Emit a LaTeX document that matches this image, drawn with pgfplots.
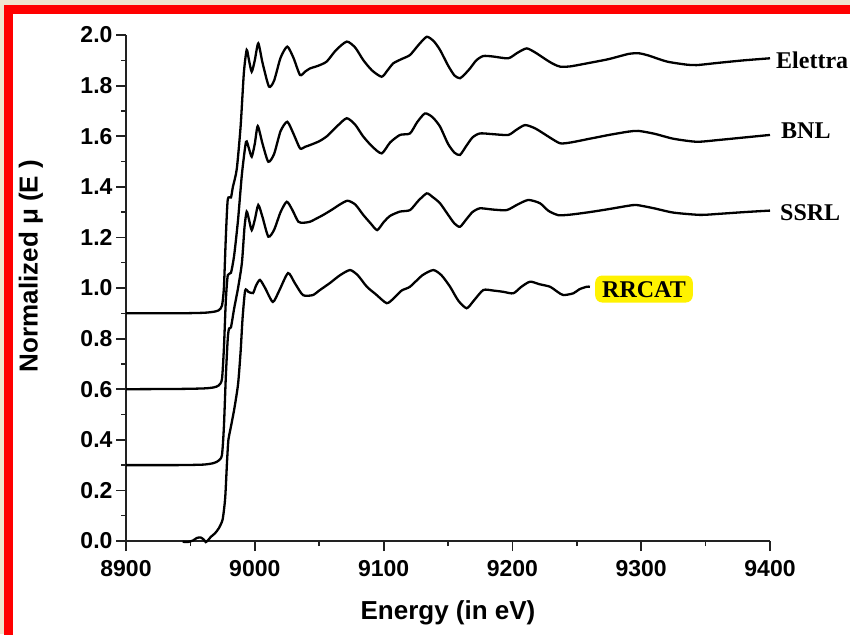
\documentclass[border=0pt]{standalone}
\usepackage{pgfplots}
\pgfplotsset{compat=1.18}
\usepackage{fontspec}
\setmainfont{Liberation Sans}
\newfontfamily\timesfont{Liberation Serif}
\definecolor{beigebg}{HTML}{EFE4CF}
\definecolor{hl}{HTML}{FFF200}
\definecolor{axc}{HTML}{222222}

\pgfplotstableread{
x y
8900 0.900
8940 0.900
8960 0.902
8968 0.906
8972 0.912
8974.5 0.93
8976 1.00
8977.5 1.20
8979 1.350
8981.5 1.358
8983 1.40
8986 1.47
8989 1.64
8991.5 1.85
8993.7 1.941
8995.5 1.90
8997.6 1.855
9000 1.90
9002.7 1.967
9006 1.89
9011 1.796
9015 1.82
9020 1.91
9025.2 1.954
9030 1.91
9035.1 1.842
9039 1.855
9042.9 1.868
9049 1.878
9055.8 1.895
9063 1.94
9071.4 1.974
9078 1.95
9084.2 1.901
9091 1.86
9098.5 1.835
9103 1.86
9107.5 1.888
9114 1.905
9120.5 1.921
9127 1.96
9133.5 1.993
9139 1.975
9143.8 1.941
9150 1.88
9155 1.84
9159.3 1.829
9163 1.845
9167.1 1.868
9172 1.90
9177.4 1.917
9185 1.915
9196.8 1.908
9204 1.93
9211.1 1.947
9218 1.93
9226.6 1.901
9232 1.885
9237 1.875
9245 1.876
9260 1.89
9275 1.905
9290 1.925
9297.7 1.928
9305 1.92
9320 1.895
9335 1.883
9343.1 1.881
9360 1.89
9380 1.90
9400 1.908
}\elettra

\pgfplotstableread{
x y
8900 0.600
8940 0.601
8960 0.603
8968 0.607
8972 0.615
8974.5 0.64
8976 0.76
8977.5 0.95
8979 1.05
8981.5 1.06
8984 1.13
8987 1.27
8990 1.45
8993.2 1.578
8995.5 1.55
8997.6 1.519
9000 1.57
9002.3 1.64
9006 1.57
9010.5 1.499
9015 1.53
9020 1.62
9025.2 1.657
9030 1.61
9035.1 1.552
9039 1.558
9042.9 1.565
9050 1.58
9056 1.60
9064 1.64
9071.4 1.671
9078 1.645
9084 1.60
9091 1.56
9098.5 1.532
9105 1.575
9112.7 1.605
9120.5 1.611
9126 1.655
9132.1 1.69
9138 1.675
9143.8 1.638
9150 1.57
9155 1.535
9159.3 1.526
9164 1.56
9169 1.595
9174.8 1.611
9185 1.608
9196.8 1.605
9203 1.625
9209.8 1.644
9218 1.63
9229 1.595
9237 1.572
9245 1.575
9260 1.59
9275 1.605
9290 1.618
9297.7 1.621
9310 1.61
9325 1.59
9343.1 1.578
9360 1.585
9380 1.595
9400 1.605
}\bnl

\pgfplotstableread{
x y
8900 0.300
8940 0.300
8960 0.302
8968 0.308
8972 0.318
8974.5 0.34
8976 0.45
8977.5 0.65
8979 0.80
8980 0.84
8981.5 0.845
8984 0.92
8987 1.00
8990 1.10
8992 1.24
8993.7 1.302
8995.5 1.27
8997.6 1.229
9000 1.27
9002.7 1.328
9006 1.28
9010.5 1.203
9015 1.23
9020 1.30
9024.8 1.341
9029 1.31
9033.8 1.262
9038 1.258
9042.9 1.262
9048 1.275
9053.2 1.289
9060 1.31
9066 1.33
9072 1.345
9078 1.33
9084.2 1.289
9090 1.255
9095 1.229
9100 1.26
9105 1.285
9112.7 1.302
9120.5 1.308
9127 1.345
9133.5 1.374
9138 1.36
9143.8 1.335
9150 1.29
9155 1.255
9159.3 1.242
9164 1.27
9169 1.30
9174.8 1.315
9185 1.31
9195.6 1.308
9204 1.33
9212.4 1.348
9221.4 1.335
9228 1.305
9235.6 1.288
9245 1.290
9260 1.300
9275 1.312
9290 1.325
9296.5 1.328
9310 1.315
9325 1.298
9345.7 1.289
9360 1.293
9380 1.30
9400 1.306
}\ssrl

\pgfplotstableread{
x y
8944 -0.003
8948 -0.004
8952 0.002
8955 0.012
8958 0.014
8960.5 0.005
8962 -0.004
8964 0.005
8966 0.017
8969 0.03
8972 0.05
8975 0.085
8977 0.17
8978.5 0.32
8979.5 0.40
8981 0.44
8984 0.52
8987 0.62
8989 0.75
8990.5 0.88
8992.5 0.99
8995 0.985
8998.6 0.98
9001 1.01
9004 1.032
9008 1.0
9014 0.945
9019 0.99
9025.8 1.059
9031 1.02
9037.4 0.972
9045 0.972
9050 0.99
9058.4 1.02
9066 1.05
9073.9 1.071
9080 1.05
9087 1.005
9094 0.975
9102.4 0.94
9108 0.96
9114 0.99
9120.5 1.005
9130 1.05
9138.6 1.071
9145 1.05
9151.6 1.005
9158 0.95
9164.5 0.92
9170 0.95
9177.4 0.992
9185 0.99
9192.9 0.985
9200.7 0.979
9207 1.005
9213.7 1.025
9221 1.015
9229.2 1.005
9235 0.985
9239.5 0.972
9247.3 0.979
9252 0.995
9257.7 1.005
9260.2 1.005
}\rrcat

\begin{document}
\begin{tikzpicture}[x=1pt,y=1pt]
\useasboundingbox (0,0) rectangle (850,-634);
\clip (0,0) rectangle (850,-634);
\fill[beigebg] (0,0) rectangle (850,-634);
\fill[red] (4,-5) rectangle (900,-700);
\fill[white] (13,-14) rectangle (900,-700);
\begin{axis}[at={(126pt,-541pt)}, anchor=south west, scale only axis,
  width=644pt, height=506pt,
  xmin=8900, xmax=9400, ymin=0, ymax=2.0,
  axis x line*=bottom, axis y line*=left,
  axis line style={line width=2pt, axc},
  xtick={8900,9000,9100,9200,9300,9400},
  ytick={0,0.2,0.4,0.6,0.8,1.0,1.2,1.4,1.6,1.8,2.0},
  minor x tick num=1, minor y tick num=1,
  tick align=outside,
  major tick length=10pt, minor tick length=5pt,
  every major tick/.append style={line width=1.8pt, axc},
  every minor tick/.append style={line width=1.5pt, axc},
  /pgf/number format/assume math mode=true,
  xticklabel style={font=\fontsize{23}{23}\selectfont\bfseries, /pgf/number format/1000 sep={}, yshift=-6pt},
  yticklabel style={font=\fontsize{23}{23}\selectfont\bfseries, /pgf/number format/fixed, /pgf/number format/fixed zerofill, /pgf/number format/precision=1},
  no markers,
  clip=false,
]
\addplot[black, line width=2.3pt, smooth, tension=0.4, no markers] table[x=x,y=y] {\elettra};
\addplot[black, line width=2.3pt, smooth, tension=0.4, no markers] table[x=x,y=y] {\bnl};
\addplot[black, line width=2.3pt, smooth, tension=0.4, no markers] table[x=x,y=y] {\ssrl};
\addplot[black, line width=2.3pt, smooth, tension=0.4, no markers] table[x=x,y=y] {\rrcat};
\end{axis}
\node[font=\fontsize{26}{26}\selectfont\bfseries] at (448,-613) {Energy (in eV)};
\node[font=\fontsize{26}{26}\selectfont\bfseries, rotate=90] at (31,-266) {Normalized μ (E )};
\node[font=\timesfont\fontsize{24}{24}\selectfont\bfseries, anchor=west, inner sep=0pt] at (776,-60) {Elettra};
\node[font=\timesfont\fontsize{24}{24}\selectfont\bfseries, anchor=west, inner sep=0pt] at (781,-131) {BNL};
\node[font=\timesfont\fontsize{24}{24}\selectfont\bfseries, anchor=west, inner sep=0pt] at (780,-213) {SSRL};
\node[font=\timesfont\fontsize{24}{24}\selectfont\bfseries, fill=hl, rounded corners=7pt, inner xsep=7pt, inner ysep=5pt, text height=17pt, text depth=0pt] at (644,-289) {RRCAT};
\end{tikzpicture}
\end{document}
